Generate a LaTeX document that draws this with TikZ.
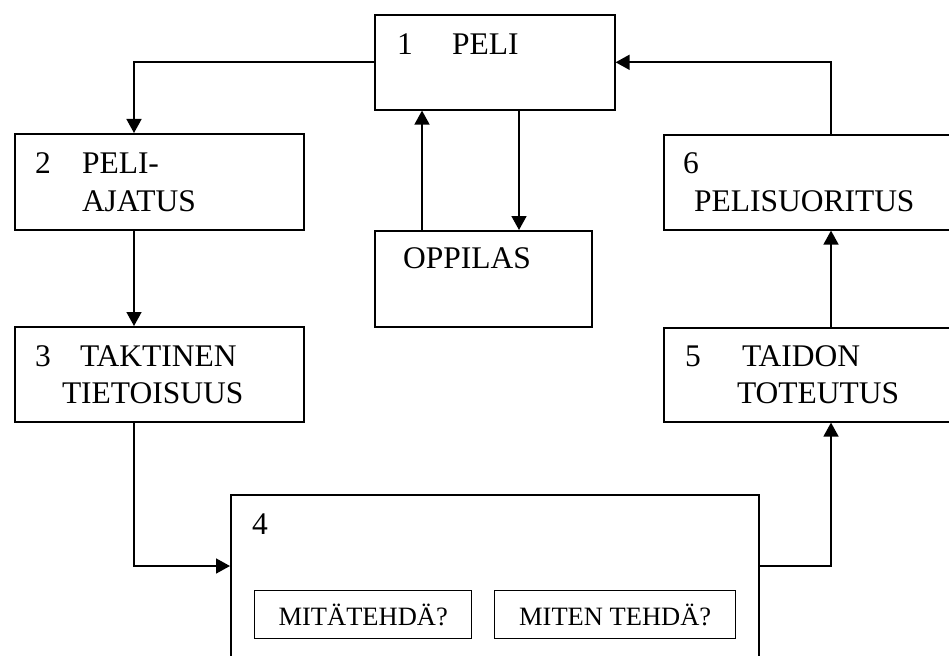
\documentclass[tikz,border=0pt]{standalone}
\usepackage{fontspec}
\setmainfont{Liberation Serif}
\usetikzlibrary{arrows.meta}
\tikzset{
  box/.style={draw=black, line width=1.6pt, rectangle, inner sep=0pt, anchor=north west},
  inbox/.style={draw=black, line width=1.4pt, rectangle, inner sep=0pt, anchor=north west,
    font=\fontsize{26.5}{30}\selectfont},
  txt/.style={anchor=base west, inner sep=0pt, outer sep=0pt, font=\fontsize{31.5}{37}\selectfont},
  conn/.style={line width=1.6pt},
  arr/.style={conn, -{Triangle[length=14pt,width=15pt]}}
}
\begin{document}
\begin{tikzpicture}[x=1pt,y=-1pt]
\useasboundingbox (0,0) rectangle (949,655);
\clip (0,0) rectangle (949,655);
% helper coordinates
\coordinate (cL) at (134,0);
\coordinate (cM) at (0,566);
\coordinate (cR) at (831,0);
\coordinate (cU) at (422,0);
\coordinate (cD) at (519,0);
% boxes
\node[box, minimum width=240pt, minimum height=95pt] (b1) at (374,14) {};
\node[box, minimum width=289pt, minimum height=96pt] (b2) at (14,133) {};
\node[box, minimum width=289pt, minimum height=95pt] (b3) at (14,326) {};
\node[box, minimum width=217pt, minimum height=96pt] (op) at (374,230) {};
\node[box, minimum width=297pt, minimum height=95pt] (b6) at (663,134) {};
\node[box, minimum width=297pt, minimum height=94pt] (b5) at (663,327) {};
\node[box, minimum width=528pt, minimum height=206pt] (b4) at (230,494) {};
\node[inbox, minimum width=217pt, minimum height=48pt] (m1) at (254,590) {MITÄTEHDÄ?};
\node[inbox, minimum width=241pt, minimum height=48pt] (m2) at (494,590) {MITEN TEHDÄ?};
% texts
\node[txt] (t1a) at (397,55) {1};
\node[txt] (t1b) at (452,55) {PELI};
\node[txt] (t2a) at (35,174) {2};
\node[txt] (t2b) at (82,174) {PELI-};
\node[txt] (t2c) at (82,211) {AJATUS};
\node[txt] (t3a) at (35,366) {3};
\node[txt] (t3b) at (80,366) {TAKTINEN};
\node[txt] (t3c) at (62,403) {TIETOISUUS};
\node[txt] (top) at (403,268) {OPPILAS};
\node[txt] (t6a) at (683,174) {6};
\node[txt] (t6b) at (694,211) {PELISUORITUS};
\node[txt] (t5a) at (685,366) {5};
\node[txt] (t5b) at (742,366) {TAIDON};
\node[txt] (t5c) at (737,403) {TOTEUTUS};
\node[txt] (t4) at (252,534) {4};
% connectors
\draw[arr] (b1.west) -| (b2.north -| cL);
\draw[arr] (b2.south -| cL) -- (b3.north -| cL);
\draw[arr] (b3.south -| cL) |- (b4.west |- cM);
\draw[arr] (b4.east |- cM) -| (b5.south -| cR);
\draw[arr] (b5.north -| cR) -- (b6.south -| cR);
\draw[arr] (b6.north -| cR) |- (b1.east);
\draw[arr] (op.north -| cU) -- (b1.south -| cU);
\draw[arr] (b1.south -| cD) -- (op.north -| cD);
\end{tikzpicture}
\end{document}
